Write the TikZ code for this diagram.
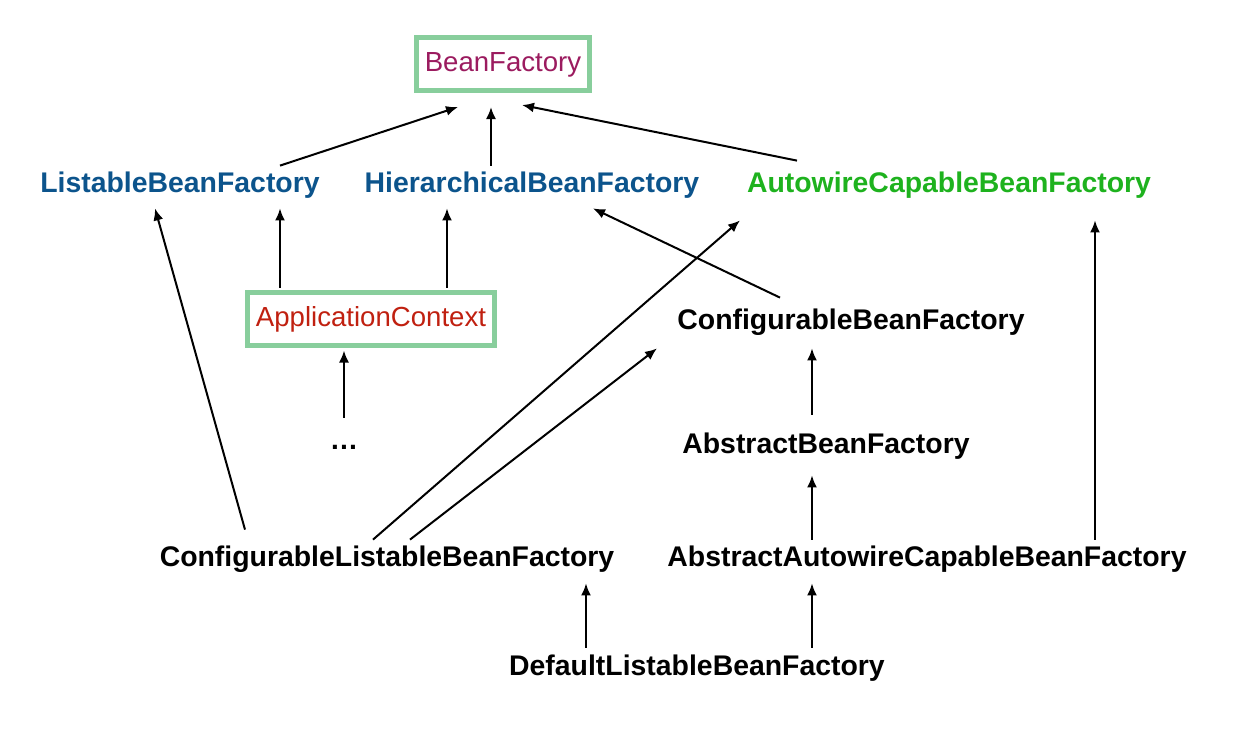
\documentclass[tikz,border=0pt]{standalone}
\usepackage{fontspec}
\setmainfont{Liberation Sans}
\usetikzlibrary{arrows.meta,calc}

\definecolor{bfpurple}{RGB}{155,27,95}
\definecolor{ifblue}{RGB}{12,84,140}
\definecolor{awgreen}{RGB}{30,178,30}
\definecolor{ctxred}{RGB}{192,32,16}
\definecolor{boxgreen}{RGB}{136,206,156}

\begin{document}
\begin{tikzpicture}[
            x=0.5pt, y=-0.5pt,
            cls/.style={font=\bfseries\fontsize{14.2}{17}\selectfont, text height=10.5pt, text depth=3pt, inner xsep=2pt, inner ysep=5pt},
            boxed/.style={font=\fontsize{13.8}{17}\selectfont, text height=10.5pt, text depth=3pt, draw=boxgreen, line width=2.5pt, inner xsep=4pt, inner ysep=6.5pt, outer sep=2.5pt},
            arr/.style={draw, line width=1pt, -{Latex[length=6pt,width=5pt]}}
        ]
        \useasboundingbox (0,0) rectangle (1233,730);
        \node[boxed, text=bfpurple] (bf) at (503,63.5) {BeanFactory};
        \node[cls, text=ifblue] (lbf) at (180,184.5) {ListableBeanFactory};
        \node[cls, text=ifblue] (hbf) at (532,184.5) {HierarchicalBeanFactory};
        \node[cls, text=awgreen] (acbf) at (949,184.5) {AutowireCapableBeanFactory};
        \node[boxed, text=ctxred] (app) at (371,319) {ApplicationContext};
        \node[cls] (dots) at (344,441.5) {…};
        \node[cls] (cbf) at (851,321.5) {ConfigurableBeanFactory};
        \node[cls] (abf) at (826,445.5) {AbstractBeanFactory};
        \node[cls] (clbf) at (387,558.5) {ConfigurableListableBeanFactory};
        \node[cls] (aacbf) at (927,558.5) {AbstractAutowireCapableBeanFactory};
        \node[cls] (dlbf) at (697,667.5) {DefaultListableBeanFactory};
        % up to BeanFactory
        \draw[arr] ($(lbf.north)+(100,5)$) -- ($(bf.south)+(-45,12)$);
        \draw[arr] ($(hbf.north)+(-41,5)$) -- ($(bf.south)+(-12,12)$);
        \draw[arr] ($(acbf.north)+(-152,0)$) -- ($(bf.south)+(19,10)$);
        % ApplicationContext
        \draw[arr] ($(app.north)+(-91,0)$) -- ($(lbf.south)+(100,0)$);
        \draw[arr] ($(app.north)+(76,0)$) -- ($(hbf.south)+(-85,0)$);
        \draw[arr] (dots.north) -- ($(app.south)+(-27,0)$);
        % ConfigurableListableBeanFactory
        \draw[arr] ($(clbf.north)+(-142,-5)$) -- ($(lbf.south)+(-25,0)$);
        \draw[arr] ($(clbf.north)+(-14,5)$) -- ($(acbf.south)+(-209,12)$);
        \draw[arr] ($(clbf.north)+(23,5)$) -- ($(cbf.south)+(-194,3)$);
        % ConfigurableBeanFactory and below
        \draw[arr] ($(cbf.north)+(-71,0)$) -- ($(hbf.south)+(61,0)$);
        \draw[arr] ($(abf.north)+(-14,-7)$) -- ($(cbf.south)+(-39,3)$);
        \draw[arr] ($(aacbf.north)+(-115,5)$) -- ($(abf.south)+(-14,6)$);
        \draw[arr] ($(aacbf.north)+(168,5)$) -- ($(acbf.south)+(146,12)$);
        % DefaultListableBeanFactory
        \draw[arr] ($(dlbf.north)+(-111,4)$) -- ($(clbf.south)+(199,1)$);
        \draw[arr] ($(dlbf.north)+(115,4)$) -- ($(aacbf.south)+(-115,1)$);
    \end{tikzpicture}
\end{document}
